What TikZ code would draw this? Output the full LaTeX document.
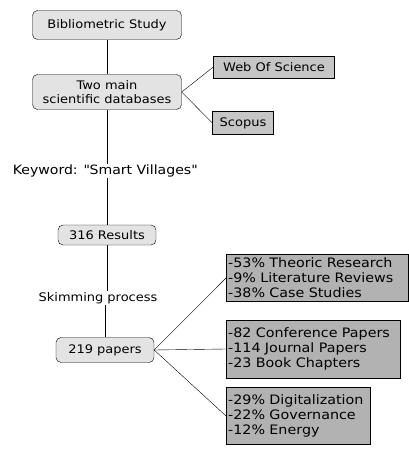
\documentclass[tikz,border=0pt]{standalone}
\usepackage{fontspec}
\setmainfont{DejaVu Sans}[FakeStretch=1.1]
\usepackage{tikz}
\usetikzlibrary{positioning}
\tikzset{roundbox/.style={draw, rounded corners=5pt, fill=gray!22, inner sep=1pt, align=center},
	dbbox/.style={draw, fill=gray!45, inner sep=1pt},
	listbox/.style={draw, fill=gray!60, inner sep=2pt, align=left, anchor=west, font=\fontsize{13}{15}\selectfont},
	plain/.style={inner sep=1pt}}

\begin{document}
\begin{tikzpicture}[x=1pt, y=-1pt, font=\fontsize{11.8}{14}\selectfont]
	\useasboundingbox (0,0) rectangle (408,449);

	\node[roundbox, minimum width=149, minimum height=29] (study) at (107, 25) {Bibliometric Study};
	\node[roundbox, minimum width=149, minimum height=35] (dbs) at (107, 92) {Two main\\scientific databases};
	\node[dbbox, minimum width=121, minimum height=22] (wos) at (274, 67) {Web Of Science};
	\node[dbbox, minimum width=61, minimum height=23] (scopus) at (243, 123) {Scopus};

	\node[plain, font=\fontsize{12.8}{15}\selectfont] (keyword) at (105, 171) {Keyword: \textquotedbl Smart Villages\textquotedbl};
	\node[roundbox, minimum width=98, minimum height=20] (results) at (107, 235) {316 Results};
	\node[plain] (skim) at (98, 298) {Skimming process};
	\node[roundbox, minimum width=98, minimum height=25] (papers) at (105, 350) {219 papers};

	% breakdown of the 219 papers
	\node[listbox, text width=178, minimum height=47] (types) at (226, 278) {-53\% Theoric Research\\-9\% Literature Reviews\\-38\% Case Studies};
	\node[listbox, text width=170, minimum height=58] (pubs) at (226, 349) {-82 Conference Papers\\-114 Journal Papers\\-23 Book Chapters};
	\node[listbox, text width=140, minimum height=57] (topics) at (226, 416) {-29\% Digitalization\\-22\% Governance\\-12\% Energy};

	\draw (study) -- (dbs);
	\draw (dbs.east) -- (wos.west);
	\draw (dbs.east) -- (scopus.west);
	\draw (dbs.south) -- (keyword.north -| dbs.south);
	\draw (keyword.south -| results.north) -- (results.north);
	\draw (results.south) -- (skim.north -| results.south);
	\draw (skim.south -| papers.north) -- (papers.north);
	\draw (papers.east) -- (types.west);
	\draw (papers.east) -- (pubs.west);
	\draw (papers.east) -- (topics.west);
\end{tikzpicture}
\end{document}
